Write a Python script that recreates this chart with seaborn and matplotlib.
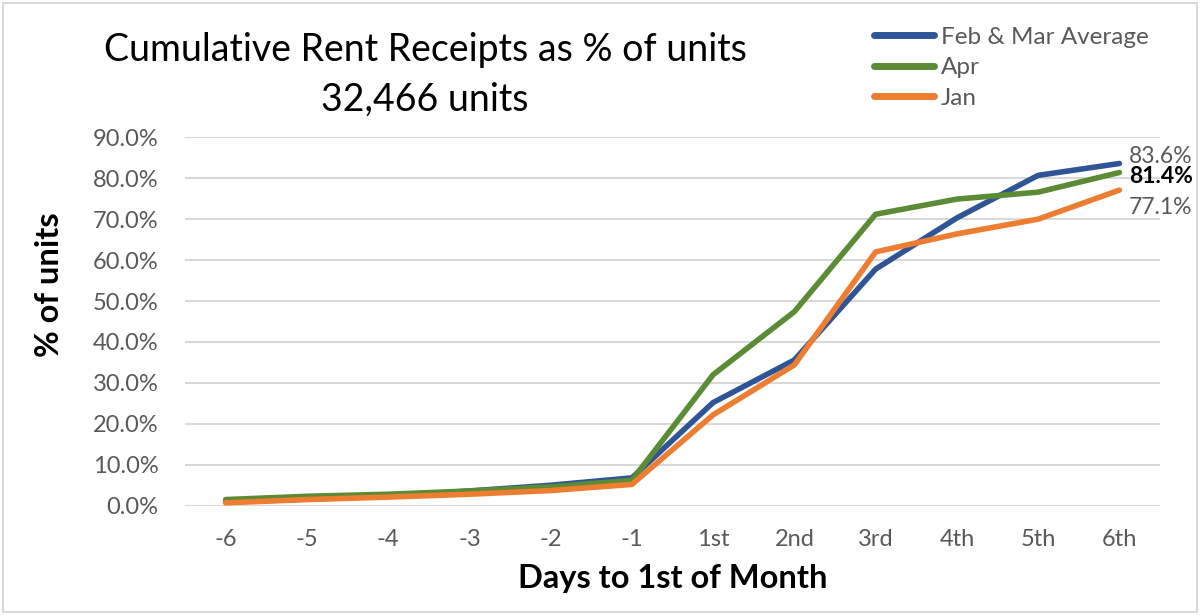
import numpy as np
import pandas as pd
import matplotlib
matplotlib.use("Agg")
import matplotlib.pyplot as plt
import seaborn as sns
from matplotlib.patches import Rectangle
from matplotlib.lines import Line2D

# ---- data ----
categories = ["-6", "-5", "-4", "-3", "-2", "-1", "1st", "2nd", "3rd", "4th", "5th", "6th"]
feb_mar_avg = [0.9, 1.6, 2.3, 3.6, 5.0, 6.8, 25.2, 35.6, 57.8, 70.3, 80.7, 83.6]
apr = [1.5, 2.3, 2.8, 3.6, 4.6, 6.2, 32.0, 47.4, 71.2, 74.9, 76.6, 81.4]
jan = [0.7, 1.5, 2.1, 2.8, 3.7, 5.2, 22.2, 34.4, 62.0, 66.4, 70.0, 77.1]
series_names = ["Feb & Mar Average", "Apr", "Jan"]
y_ticks = [0, 10, 20, 30, 40, 50, 60, 70, 80, 90]

colors = {"Feb & Mar Average": "#2F5597", "Apr": "#5B8C35", "Jan": "#ED7D31"}

rows = []
for name, vals in zip(series_names, [feb_mar_avg, apr, jan]):
    for i, v in enumerate(vals):
        rows.append({"pos": i, "value": v, "series": name})
df = pd.DataFrame(rows)

sns.set_theme(style="white")
plt.rcParams['font.family'] = ['Lato', 'DejaVu Sans']

fig = plt.figure(figsize=(12, 6.15), dpi=100)
ax = fig.add_axes([185/1200, 1-505.7/615, (1160-185)/1200, (505.7-137.3)/615])

sns.lineplot(data=df, x="pos", y="value", hue="series", hue_order=series_names,
             palette=colors, linewidth=4, ax=ax, legend=False, zorder=3,
             solid_capstyle="round", solid_joinstyle="round")

ax.set_xlim(-0.5, len(categories) - 0.5)
ax.set_ylim(0, 90)
ax.set_yticks(y_ticks)
ax.set_yticklabels([f"{t:.1f}%" for t in y_ticks])
ax.set_xticks(range(len(categories)))
ax.set_xticklabels(categories)
ax.tick_params(axis="both", length=0, labelsize=17, colors="#595959")
ax.tick_params(axis="x", pad=17)
ax.tick_params(axis="y", pad=19)
ax.grid(axis="y", color="#d9d9d9", linewidth=1.5, zorder=0)
ax.grid(axis="x", visible=False)
for s in ax.spines.values():
    s.set_visible(False)

ax.set_xlabel("Days to 1st of Month", fontsize=23.5, fontweight="bold", color="black", labelpad=10)
ax.set_ylabel("% of units", fontsize=23.5, fontweight="bold", color="black")
ax.yaxis.set_label_coords(-0.124, 0.60)

# end labels
last = len(categories) - 1
ax.annotate(f"{feb_mar_avg[-1]:.1f}%", xy=(last, feb_mar_avg[-1]), xytext=(7, 4.7),
            textcoords="offset points", fontsize=16.5, color="#595959", va="center", ha="left")
ax.annotate(f"{apr[-1]:.1f}%", xy=(last, apr[-1]), xytext=(7, -3.2),
            textcoords="offset points", fontsize=16.5, color="black", fontweight="bold",
            va="center", ha="left")
ax.annotate(f"{jan[-1]:.1f}%", xy=(last, jan[-1]), xytext=(7, -12.5),
            textcoords="offset points", fontsize=16.5, color="#595959", va="center", ha="left")

# titles
fig.text(425/1200, 1-50/615, "Cumulative Rent Receipts as % of units", fontsize=27,
         ha="center", va="center", color="black")
fig.text(425/1200, 1-100/615, "32,466 units", fontsize=27, ha="center", va="center", color="black")

# legend
handles = [Line2D([0], [0], color=colors[n], linewidth=5, solid_capstyle="round") for n in series_names]
leg = fig.legend(handles, series_names, loc="upper left", bbox_to_anchor=(864/1200, 1-17/615),
                 frameon=False, fontsize=17.5, handlelength=2.5, handletextpad=0.25,
                 labelspacing=0.39, borderaxespad=0)
for t in leg.get_texts():
    t.set_color("#595959")

# chart border
fig.patches.append(Rectangle((3/1200, 3/615), 1-6/1200, 1-6/615, transform=fig.transFigure,
                             fill=False, edgecolor="#d9d9d9", linewidth=1.5))

fig.savefig("out.png", dpi=100)
